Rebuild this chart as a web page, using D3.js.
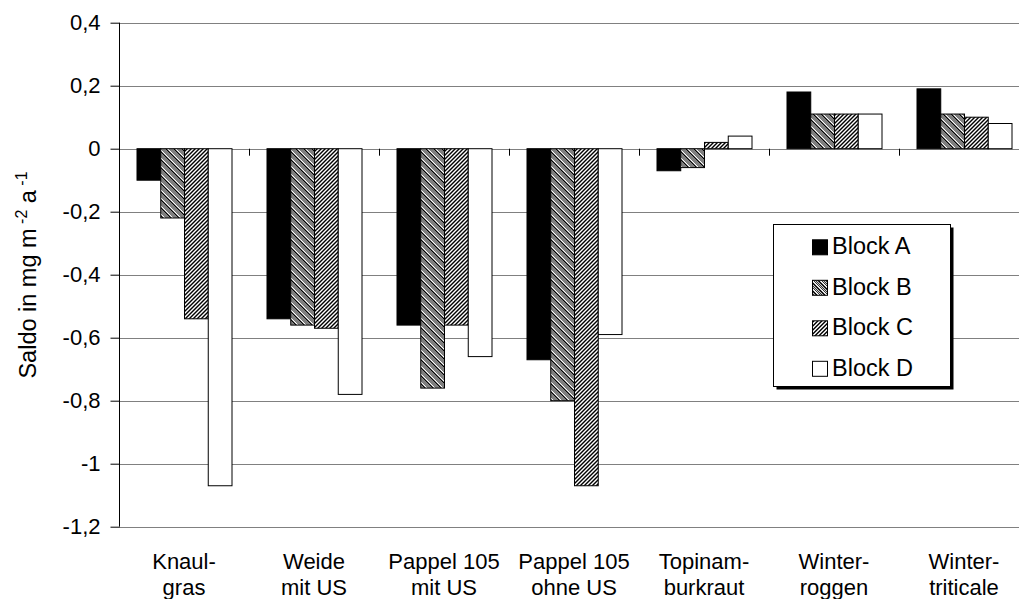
<!DOCTYPE html>
<html>
<head>
<meta charset="utf-8">
<script src="https://cdn.jsdelivr.net/npm/d3@7"></script>
<style>
  html, body { margin: 0; padding: 0; background: #fff; }
  svg { display: block; font-family: "Liberation Sans", Arial, sans-serif; }
</style>
</head>
<body>
<svg id="chart" width="1019" height="599"></svg>
<script>
const categories = [
  ["Knaul-", "gras"],
  ["Weide", "mit US"],
  ["Pappel 105", "mit US"],
  ["Pappel 105", "ohne US"],
  ["Topinam-", "burkraut"],
  ["Winter-", "roggen"],
  ["Winter-", "triticale"]
];
const seriesNames = ["Block A", "Block B", "Block C", "Block D"];
const blockA = [-0.10, -0.54, -0.56, -0.67, -0.07, 0.18, 0.19];
const blockB = [-0.22, -0.56, -0.76, -0.80, -0.06, 0.11, 0.11];
const blockC = [-0.54, -0.57, -0.56, -1.07, 0.02, 0.11, 0.10];
const blockD = [-1.07, -0.78, -0.66, -0.59, 0.04, 0.11, 0.08];
const yTicks = [0.4, 0.2, 0, -0.2, -0.4, -0.6, -0.8, -1, -1.2];

const series = [blockA, blockB, blockC, blockD];
const fills = ["#000", "url(#patB)", "url(#patC)", "#fff"];
const FS = 22;

const svg = d3.select("#chart");
const defs = svg.append("defs");

function makePattern(id, rows) {
  const n = rows.length;
  const p = defs.append("pattern").attr("id", id)
    .attr("patternUnits", "userSpaceOnUse").attr("width", n).attr("height", n);
  p.append("rect").attr("width", n).attr("height", n).attr("fill", "#fff");
  rows.forEach((r, py) => r.split("").forEach((c, px) => {
    if (c === "1") p.append("rect").attr("x", px).attr("y", py).attr("width", 1).attr("height", 1).attr("fill", "#000");
  }));
}
// Block B: dense downward diagonal texture
makePattern("patB", [
  "11001010",
  "01100101",
  "10110010",
  "01011001",
  "10101100",
  "01010110",
  "00101011",
  "10010101"
]);
// Block C: upward diagonal texture
makePattern("patC", [
  "00110011",
  "01100110",
  "11001100",
  "10011001",
  "00110011",
  "01100110",
  "11001100",
  "10011001"
]);

const plotL = 119, plotR = 1029, plotT = 22.7, plotB = 526.7;

const x0 = d3.scaleBand()
  .domain(d3.range(categories.length))
  .range([plotL, plotR])
  .paddingInner(0.2692)
  .paddingOuter(0.1346);
const x1 = d3.scaleBand()
  .domain(d3.range(seriesNames.length))
  .range([0, x0.bandwidth()])
  .padding(0);
const y = d3.scaleLinear().domain([-1.2, 0.4]).range([plotB, plotT]);

// gridlines
svg.append("g").selectAll("line").data(yTicks).join("line")
  .attr("x1", plotL).attr("x2", plotR)
  .attr("y1", d => Math.round(y(d)) + 0.5).attr("y2", d => Math.round(y(d)) + 0.5)
  .attr("stroke", "#808080").attr("stroke-width", 1);

// bars
const groups = svg.append("g").selectAll("g").data(categories).join("g")
  .attr("transform", (d, i) => `translate(${x0(i)},0)`);
groups.selectAll("rect")
  .data((d, i) => series.map((s, k) => ({ k, v: s[i] })))
  .join("rect")
  .attr("x", d => x1(d.k) + 0.5)
  .attr("width", x1.bandwidth())
  .attr("y", d => y(Math.max(0, d.v)))
  .attr("height", d => Math.abs(y(d.v) - y(0)))
  .attr("fill", d => fills[d.k])
  .attr("stroke", "#000").attr("stroke-width", 1);

// x-axis ticks at category boundaries on zero line
const step = x0.step();
const boundaries = d3.range(1, categories.length).map(i => x0(i) - x0.paddingInner() * step / 2);
svg.append("g").selectAll("line").data(boundaries).join("line")
  .attr("x1", d => Math.round(d) + 0.5).attr("x2", d => Math.round(d) + 0.5)
  .attr("y1", y(0)).attr("y2", y(0) + 7)
  .attr("stroke", "#000");

// y axis
const yAxis = d3.axisLeft(y).tickValues(yTicks).tickSize(9).tickPadding(10)
  .tickFormat(d => String(Math.round(d * 10) / 10).replace(".", ","));
const gy = svg.append("g").attr("transform", `translate(${plotL + 0.5},0)`).call(yAxis);
gy.select(".domain").attr("stroke", "#000").attr("d", `M0,${plotT}V${plotB}`);
gy.selectAll(".tick line").attr("stroke", "#000");
gy.selectAll(".tick text").attr("font-size", FS).attr("fill", "#000")
  .attr("font-family", "Liberation Sans, Arial, sans-serif");

// category labels
const lab = svg.append("g").selectAll("text").data(categories).join("text")
  .attr("text-anchor", "middle").attr("font-size", FS).attr("fill", "#000");
lab.append("tspan").attr("y", 569).attr("x", (d, i) => x0(i) + x0.bandwidth() / 2).text(d => d[0]);
lab.append("tspan").attr("y", 595).attr("x", (d, i) => x0(i) + x0.bandwidth() / 2).text(d => d[1]);

// y title
const yt = svg.append("text").attr("transform", "translate(36,275) rotate(-90)")
  .attr("text-anchor", "middle").attr("font-size", 23.5).attr("fill", "#000");
yt.append("tspan").text("Saldo in mg m");
yt.append("tspan").attr("font-size", 16).attr("dy", -9).text(" -2");
yt.append("tspan").attr("dy", 9).text(" a");
yt.append("tspan").attr("font-size", 16).attr("dy", -9).text(" -1");

// legend
const lg = svg.append("g");
const lx = 773, ly = 224, lw = 177, lh = 162;
lg.append("rect").attr("x", lx + 3.5).attr("y", ly + 3.5).attr("width", lw).attr("height", lh).attr("fill", "#000");
lg.append("rect").attr("x", lx + 0.5).attr("y", ly + 0.5).attr("width", lw).attr("height", lh)
  .attr("fill", "#fff").attr("stroke", "#000");
const items = lg.selectAll("g.item").data(seriesNames).join("g")
  .attr("transform", (d, i) => `translate(0,${254.3 + i * 40.5})`);
items.append("rect").attr("x", 812.5).attr("y", -14.5).attr("width", 15).attr("height", 15)
  .attr("fill", (d, i) => fills[i]).attr("stroke", "#000");
items.append("text").attr("x", 832).attr("y", 0).attr("font-size", 23.5).attr("fill", "#000").text(d => d);
</script>
</body>
</html>
